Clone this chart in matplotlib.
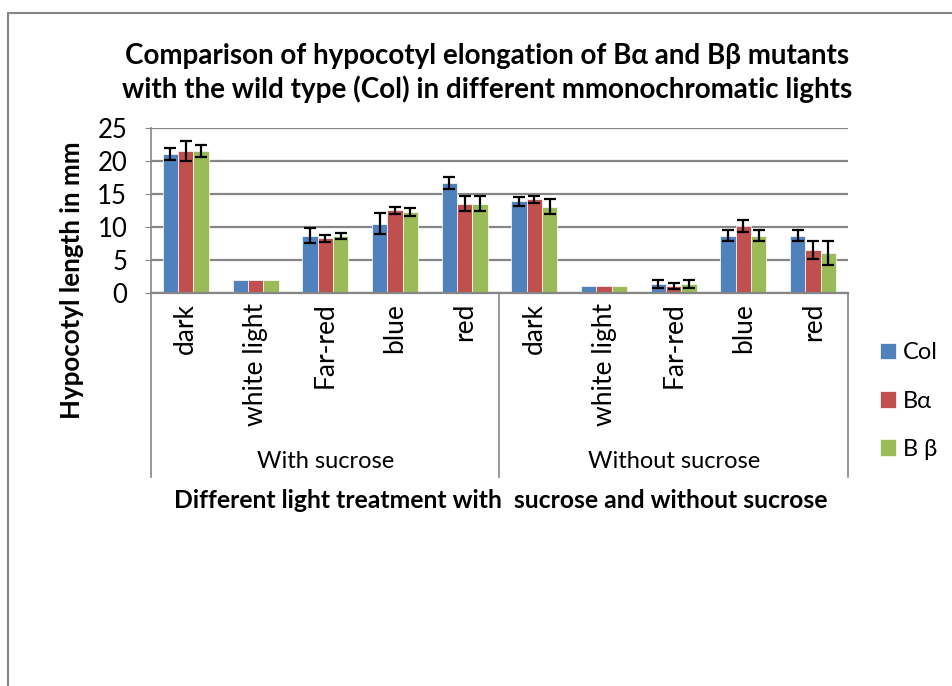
import numpy as np
import matplotlib.pyplot as plt

plt.rcParams['font.family'] = ['Lato', 'DejaVu Sans']

# categories
lights = ['dark', 'white light', 'Far-red', 'blue', 'red']
groups = ['With sucrose', 'Without sucrose']
series = ['Col', 'B\u03b1', 'B \u03b2']

# hypocotyl length (mm), with sucrose then without sucrose
col_vals = [21.1, 1.9, 8.7, 10.5, 16.7, 13.9, 1.0, 1.4, 8.7, 8.7]
ba_vals = [21.5, 1.9, 8.3, 12.5, 13.5, 14.2, 1.0, 1.1, 10.2, 6.5]
bb_vals = [21.5, 1.9, 8.7, 12.3, 13.5, 13.1, 1.0, 1.4, 8.7, 6.1]

col_err = [0.9, 0, 1.1, 1.55, 0.9, 0.7, 0, 0.58, 0.83, 0.83]
ba_err = [1.5, 0, 0.55, 0.58, 1.15, 0.55, 0, 0.48, 0.9, 1.35]
bb_err = [0.95, 0, 0.45, 0.58, 1.15, 1.1, 0, 0.58, 0.83, 1.85]

colors = ['#4F81BD', '#C0504D', '#9BBB59']
grid_c = '#868686'

fig = plt.figure(figsize=(9.53, 6.86), dpi=100)
ax = fig.add_axes([0.1584, 0.5729, 0.7314, 0.2405])

x = np.arange(len(col_vals))
w = 0.22
allvals = [col_vals, ba_vals, bb_vals]
allerr = [col_err, ba_err, bb_err]
for i in range(3):
    err = [e if e > 0 else np.nan for e in allerr[i]]
    ax.bar(x + (i - 1) * w, allvals[i], w, color=colors[i], edgecolor='white',
           linewidth=0.5, label=series[i], zorder=2)
    ax.errorbar(x + (i - 1) * w, allvals[i], yerr=err, fmt='none', ecolor='black',
                elinewidth=1.6, capsize=4.5, capthick=1.6, zorder=3)

ax.set_xlim(-0.5, 9.5)
ax.set_ylim(0, 25)
ax.set_yticks([0, 5, 10, 15, 20, 25])
ax.yaxis.grid(True, color=grid_c, linewidth=1.6)
ax.set_axisbelow(True)
for s in ['top', 'right']:
    ax.spines[s].set_visible(False)
ax.spines['left'].set_color(grid_c)
ax.spines['bottom'].set_color(grid_c)
ax.spines['left'].set_linewidth(1.2)
ax.spines['bottom'].set_linewidth(1.6)
ax.tick_params(axis='y', length=4, color=grid_c, labelsize=18.5, pad=13)

ax.set_xticks(x)
ax.set_xticklabels(lights * 2, rotation=90, fontsize=19, va='top')
ax.tick_params(axis='x', length=0, pad=7)

# group separators and labels under the axis
tr = ax.get_xaxis_transform()
for xs in [-0.5, 4.5, 9.5]:
    ax.plot([xs, xs], [0, -1.115], transform=tr, color=grid_c, linewidth=1.2, clip_on=False)
for gi, g in enumerate(groups):
    ax.text(2 + gi * 5, -1.02, g, transform=tr, ha='center', va='center', fontsize=17)

ax.set_ylabel('Hypocotyl length in mm', fontsize=18.6, fontweight='bold')
ax.yaxis.set_label_coords(-0.096, 0.08)
fig.text(0.525, 0.271, 'Different light treatment with  sucrose and without sucrose',
         ha='center', va='center', fontsize=17.8, fontweight='bold')
fig.text(0.511, 0.894, 'Comparison of hypocotyl elongation of B\u03b1 and B\u03b2 mutants\n'
         'with the wild type (Col) in different mmonochromatic lights',
         ha='center', va='center', fontsize=20, fontweight='bold', linespacing=1.3)

ax.legend(loc='center left', bbox_to_anchor=(1.015, -0.655), frameon=False, fontsize=17,
          handlelength=0.7, handleheight=0.7, handletextpad=0.3, labelspacing=1.15)

# outer chart border
fig.add_artist(plt.Line2D([0.008, 0.008], [0.0, 0.981], color=grid_c, linewidth=1.5))
fig.add_artist(plt.Line2D([0.008, 1.0], [0.981, 0.981], color=grid_c, linewidth=1.5))

fig.savefig('out.png', dpi=100)
